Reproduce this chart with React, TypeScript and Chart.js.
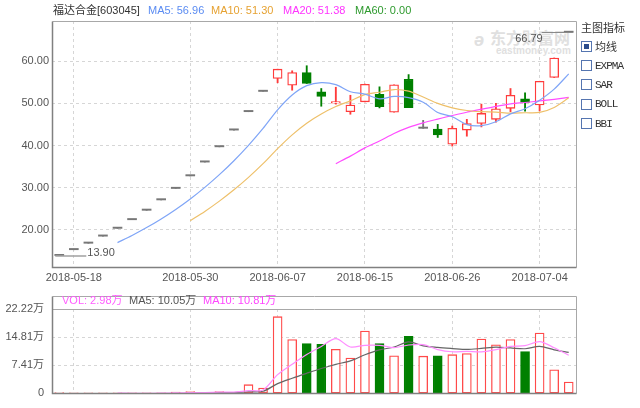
import React, { useEffect, useRef } from 'react';
import { Chart, registerables } from 'chart.js';

Chart.register(...registerables);

// ---------- data ----------
const dates = [
  '2018-05-17', '2018-05-18', '2018-05-21', '2018-05-22', '2018-05-23', '2018-05-24',
  '2018-05-25', '2018-05-28', '2018-05-29', '2018-05-30', '2018-05-31', '2018-06-01',
  '2018-06-04', '2018-06-05', '2018-06-06', '2018-06-07', '2018-06-08', '2018-06-11',
  '2018-06-12', '2018-06-13', '2018-06-14', '2018-06-15', '2018-06-19', '2018-06-20',
  '2018-06-21', '2018-06-22', '2018-06-25', '2018-06-26', '2018-06-27', '2018-06-28',
  '2018-06-29', '2018-07-02', '2018-07-03', '2018-07-04', '2018-07-05', '2018-07-06',
];
const opens = [
  13.9, 15.29, 16.82, 18.5, 20.35, 22.39, 24.63, 27.09, 29.8, 32.78, 36.06, 39.67,
  43.64, 48.0, 52.8, 55.9, 54.3, 57.3, 52.7, 50.0, 48.0, 50.35, 52.1, 47.9,
  55.7, 44.06, 43.9, 40.3, 43.65, 45.2, 46.2, 48.8, 51.07, 49.6, 56.1, 66.79,
];
const highs = [
  13.9, 15.29, 16.82, 18.5, 20.35, 22.39, 24.63, 27.09, 29.8, 32.78, 36.06, 39.67,
  43.64, 48.0, 52.8, 58.08, 57.7, 58.9, 53.5, 53.8, 51.9, 54.55, 53.9, 54.4,
  56.8, 45.95, 45.0, 44.6, 46.2, 49.8, 50.0, 53.5, 52.5, 55.22, 60.74, 66.79,
];
const lows = [
  13.9, 15.29, 16.82, 18.5, 20.35, 22.39, 24.63, 27.09, 29.8, 32.78, 36.06, 39.67,
  43.64, 48.0, 52.8, 54.86, 53.1, 54.7, 49.3, 49.8, 47.4, 50.3, 48.9, 47.9,
  48.96, 44.06, 41.9, 39.86, 42.2, 44.4, 45.5, 48.0, 48.15, 48.2, 56.1, 66.79,
];
const closes = [
  13.9, 15.29, 16.82, 18.5, 20.35, 22.39, 24.63, 27.09, 29.8, 32.78, 36.06, 39.67,
  43.64, 48.0, 52.8, 58.08, 57.3, 54.7, 51.6, 50.4, 49.6, 54.5, 49.2, 54.4,
  48.96, 44.06, 42.5, 44.05, 45.2, 47.6, 48.7, 51.9, 50.2, 55.22, 60.74, 66.79,
];
// volume in 万
const volumes = [
  0.2, 0.03, 0.03, 0.04, 0.04, 0.05, 0.06, 0.08, 0.35, 0.5, 0.15, 0.5,
  0.25, 2.3, 1.4, 20.2, 14.2, 13.1, 12.9, 11.6, 9.3, 16.4, 13.1, 9.9,
  15.0, 9.8, 9.9, 10.2, 10.5, 14.3, 12.8, 14.2, 11.0, 15.9, 6.2, 2.98,
];
const axisDates = ['2018-05-18', '2018-05-30', '2018-06-07', '2018-06-15', '2018-06-26', '2018-07-04'];
const priceTicks = [20, 30, 40, 50, 60];
const priceMin = 11.2;
const priceMax = 69.5;
const volumeTicks = [0, 7.41, 14.81, 22.22];
const volumeMax = 22.22;

const titleText = '福达合金[603045]';
const maLegend = ['MA5: 56.96', 'MA10: 51.30', 'MA20: 51.38', 'MA60: 0.00'];
const volLegend = ['VOL: 2.98万', 'MA5: 10.05万', 'MA10: 10.81万'];
const indicatorItems = ['均线', 'EXPMA', 'SAR', 'BOLL', 'BBI'];

// ---------- styles ----------
const FONT = '"Liberation Sans", Arial, "Noto Sans CJK SC", sans-serif';
const CJK = '"Noto Sans CJK SC", "Liberation Sans", sans-serif';
const RED = '#ff3b3b';
const GREEN = '#008000';
const FLAT = '#777777';
const GRID = '#d6d6d6';

function movingAverage(values: number[], n: number): (number | null)[] {
  return values.map((_, i) => {
    if (i < n - 1) return null;
    let s = 0;
    for (let k = i - n + 1; k <= i; k++) s += values[k];
    return s / n;
  });
}

const candleColor = (i: number) =>
  closes[i] > opens[i] ? RED : closes[i] < opens[i] ? GREEN : FLAT;
const volColor = (i: number) => (closes[i] < opens[i] ? GREEN : RED);

const axisSet = new Set(axisDates);
const xGridColor = (ctx: any) => (axisSet.has(dates[ctx.index]) ? GRID : 'rgba(0,0,0,0)');

const mainPlugin = {
  id: 'mainOverlay',
  afterDatasetsDraw(chart: any) {
    const { ctx, chartArea: a, scales } = chart;
    const xs = scales.x;
    const ys = scales.y;
    ctx.save();
    let hi = 0;
    let lo = 0;
    highs.forEach((v, i) => { if (v >= highs[hi]) hi = i; });
    lows.forEach((v, i) => { if (v < lows[lo]) lo = i; });
    ctx.font = `11px ${FONT}`;
    ctx.fillStyle = '#555';
    const hx = xs.getPixelForValue(hi);
    const hy = Math.round(ys.getPixelForValue(highs[hi])) + 0.5;
    ctx.strokeStyle = '#8a8a8a';
    ctx.lineWidth = 1;
    ctx.beginPath();
    ctx.moveTo(hx + 4, hy);
    ctx.lineTo(hx - 27, hy);
    ctx.stroke();
    ctx.textAlign = 'right';
    ctx.textBaseline = 'top';
    ctx.fillText(highs[hi].toFixed(2), hx - 26, hy + 0.5);

    const lx = xs.getPixelForValue(lo);
    const ly = Math.round(ys.getPixelForValue(lows[lo]));
    ctx.strokeStyle = '#a0a0a0';
    ctx.lineWidth = 1.5;
    ctx.beginPath();
    ctx.moveTo(lx - 4, ly);
    ctx.lineTo(lx + 27, ly);
    ctx.stroke();
    ctx.textAlign = 'left';
    ctx.textBaseline = 'alphabetic';
    ctx.fillText(lows[lo].toFixed(2), lx + 28, ly);

    const L = Math.round(a.left) + 0.5;
    const R = Math.round(a.right) + 0.5;
    const T = Math.round(a.top) + 0.5;
    const B = Math.round(a.bottom) + 0.5;
    ctx.lineWidth = 1;
    ctx.strokeStyle = '#a8a8a8';
    ctx.beginPath();
    ctx.moveTo(L, T); ctx.lineTo(R, T); ctx.lineTo(R, B);
    ctx.stroke();
    ctx.strokeStyle = '#808080';
    ctx.lineWidth = 1.5;
    ctx.beginPath();
    ctx.moveTo(L, T); ctx.lineTo(L, B); ctx.lineTo(R, B);
    ctx.stroke();
    ctx.restore();
  },
};

const volPlugin = {
  id: 'volOverlay',
  afterDatasetsDraw(chart: any) {
    const { ctx, chartArea: a } = chart;
    const L = Math.round(a.left) + 0.5;
    const R = Math.round(a.right) + 0.5;
    const T = Math.round(a.top) + 0.5;
    const B = Math.round(a.bottom) + 0.5;
    ctx.save();
    ctx.strokeStyle = '#a8a8a8';
    ctx.lineWidth = 1;
    ctx.beginPath();
    ctx.moveTo(L, 6.5); ctx.lineTo(R, 6.5); ctx.lineTo(R, B);
    ctx.moveTo(L, T); ctx.lineTo(R, T);
    ctx.stroke();
    ctx.strokeStyle = '#808080';
    ctx.lineWidth = 1.5;
    ctx.beginPath();
    ctx.moveTo(L, 6.5); ctx.lineTo(L, B); ctx.lineTo(R, B);
    ctx.stroke();
    ctx.restore();
  },
};

export default function App() {
  const mainRef = useRef<HTMLCanvasElement>(null);
  const volRef = useRef<HTMLCanvasElement>(null);

  useEffect(() => {
    Chart.defaults.font.family = FONT;
    const ma5 = movingAverage(closes, 5);
    const ma10 = movingAverage(closes, 10);
    const ma20 = movingAverage(closes, 20);
    const bodies = dates.map((_, i) => [opens[i], closes[i]]);
    const wicks = dates.map((_, i) => [lows[i], highs[i]]);

    const main = new Chart(mainRef.current as HTMLCanvasElement, {
      type: 'bar',
      data: {
        labels: dates,
        datasets: [
          { type: 'line', data: ma5, borderColor: '#7fa5f7', borderWidth: 1.2, pointRadius: 0, tension: 0.3, order: 0 } as any,
          { type: 'line', data: ma10, borderColor: '#eec06a', borderWidth: 1.2, pointRadius: 0, tension: 0.3, order: 0 } as any,
          { type: 'line', data: ma20, borderColor: '#ff4dff', borderWidth: 1.2, pointRadius: 0, tension: 0.3, order: 0 } as any,
          {
            type: 'bar',
            data: bodies,
            backgroundColor: dates.map((_, i) => (closes[i] > opens[i] ? '#ffffff' : candleColor(i))),
            borderColor: dates.map((_, i) => candleColor(i)),
            borderWidth: dates.map((_, i) => (closes[i] === opens[i] ? 0 : 1.3)),
            borderSkipped: false,
            barThickness: 9,
            grouped: false,
            minBarLength: 1.3,
            order: 1,
          } as any,
          {
            type: 'bar',
            data: wicks,
            backgroundColor: dates.map((_, i) => candleColor(i)),
            borderWidth: 0,
            barThickness: 1.2,
            grouped: false,
            order: 2,
          } as any,
        ],
      },
      options: {
        responsive: false,
        animation: false,
        devicePixelRatio: 1,
        events: [],
        layout: { padding: { top: 21, right: 64, left: 0, bottom: 0 } },
        plugins: { legend: { display: false }, tooltip: { enabled: false } },
        scales: {
          x: {
            type: 'category',
            offset: true,
            grid: { offset: false, color: xGridColor, drawTicks: false, lineWidth: 1 },
            border: { display: false, dash: [3, 3] },
            ticks: {
              autoSkip: false,
              maxRotation: 0,
              minRotation: 0,
              padding: 4,
              color: '#555',
              font: { size: 11, family: FONT },
              callback: (_v: any, i: number) => (axisSet.has(dates[i]) ? dates[i] : ''),
            },
            afterFit: (s: any) => { s.height = 23; },
          },
          y: {
            min: priceMin,
            max: priceMax,
            afterBuildTicks: (s: any) => { s.ticks = priceTicks.map((v) => ({ value: v })); },
            grid: { color: GRID, drawTicks: false },
            border: { display: false, dash: [3, 3] },
            ticks: {
              padding: 3,
              color: '#555',
              font: { size: 11, family: FONT },
              callback: (v: any) => Number(v).toFixed(2),
            },
            afterFit: (s: any) => { s.width = 52; },
          },
        },
      } as any,
      plugins: [mainPlugin],
    });

    const vma5 = movingAverage(volumes, 5);
    const vma10 = movingAverage(volumes, 10);
    const vol = new Chart(volRef.current as HTMLCanvasElement, {
      type: 'bar',
      data: {
        labels: dates,
        datasets: [
          { type: 'line', data: vma5, borderColor: '#ff8cff', borderWidth: 1.2, pointRadius: 0, tension: 0.3, order: 0 } as any,
          { type: 'line', data: vma10, borderColor: '#666666', borderWidth: 1.2, pointRadius: 0, tension: 0.3, order: 0 } as any,
          {
            type: 'bar',
            data: volumes,
            backgroundColor: dates.map((_, i) => (volColor(i) === RED ? '#ffffff' : GREEN)),
            borderColor: dates.map((_, i) => (volColor(i) === RED ? '#ff4a4a' : GREEN)),
            borderWidth: 1.3,
            borderSkipped: false,
            barThickness: 9,
            grouped: false,
            order: 1,
          } as any,
        ],
      },
      options: {
        responsive: false,
        animation: false,
        devicePixelRatio: 1,
        events: [],
        layout: { padding: { top: 19, right: 64, left: 0, bottom: 4 } },
        plugins: { legend: { display: false }, tooltip: { enabled: false } },
        scales: {
          x: {
            type: 'category',
            offset: true,
            grid: { offset: false, color: xGridColor, drawTicks: false, lineWidth: 1 },
            border: { display: false, dash: [3, 3] },
            ticks: { display: false },
            afterFit: (s: any) => { s.height = 0; },
          },
          y: {
            min: 0,
            max: volumeMax,
            afterBuildTicks: (s: any) => { s.ticks = volumeTicks.map((v) => ({ value: v })); },
            grid: {
              color: (ctx: any) =>
                ctx.tick && (ctx.tick.value === 0 || ctx.tick.value === volumeMax) ? 'rgba(0,0,0,0)' : GRID,
              drawTicks: false,
            },
            border: { display: false, dash: [3, 3] },
            ticks: {
              padding: 8,
              color: '#555',
              font: { size: 11, family: FONT },
              callback: (v: any) => (Number(v) === 0 ? '0' : Number(v).toFixed(2) + '万'),
            },
            afterFit: (s: any) => { s.width = 52; },
          },
        },
      } as any,
      plugins: [volPlugin],
    });

    return () => {
      main.destroy();
      vol.destroy();
    };
  }, []);

  const maColors = ['#5b8cf2', '#e6a232', '#ff33ff', '#2e9a2e'];
  const maLefts = [148, 211, 283, 355];
  const volColors = ['#ff5cff', '#555555', '#ff44ff'];
  const volLefts = [62, 129, 203];
  const itemCenters = [46, 65.5, 84.5, 104, 123.5];

  const abs = (l: number, t: number, extra: any = {}) => ({ position: 'absolute' as const, left: l, top: t, whiteSpace: 'nowrap' as const, ...extra });

  return (
    <div style={{ position: 'absolute', left: 0, top: 0, width: 640, height: 408, background: '#fff', overflow: 'hidden', fontFamily: FONT }}>
      {/* watermark */}
      <div style={abs(490, 28, { fontFamily: CJK, fontSize: 16, fontWeight: 700, color: '#e0e0e0', lineHeight: '18px' })}>东方财富网</div>
      <div style={abs(496, 45, { fontFamily: FONT, fontSize: 10, fontWeight: 700, color: '#e0e0e0', lineHeight: '12px' })}>eastmoney.com</div>
      <div style={abs(474, 30, { fontFamily: FONT, fontSize: 18, fontWeight: 700, fontStyle: 'italic', color: '#e0e0e0', lineHeight: '20px' })}>ǝ</div>

      <canvas ref={mainRef} width={640} height={290} style={{ position: 'absolute', left: 0, top: 0, width: 640, height: 290 }} />
      <canvas ref={volRef} width={640} height={118} style={{ position: 'absolute', left: 0, top: 290, width: 640, height: 118 }} />

      {/* main legend */}
      <div style={abs(53, 3, { fontSize: 11, lineHeight: '14px', color: '#333' })}>{titleText}</div>
      {maLegend.map((t, i) => (
        <div key={t} style={abs(maLefts[i], 3, { fontSize: 11, lineHeight: '14px', color: maColors[i] })}>{t}</div>
      ))}

      {/* volume legend */}
      {volLegend.map((t, i) => (
        <div key={t} style={abs(volLefts[i], 293, { fontSize: 11, lineHeight: '14px', color: volColors[i] })}>{t}</div>
      ))}

      {/* right indicator panel */}
      <div style={abs(581, 20, { fontFamily: CJK, fontSize: 11, lineHeight: '14px', color: '#333' })}>主图指标</div>
      {indicatorItems.map((t, i) => (
        <React.Fragment key={t}>
          <div style={abs(581, itemCenters[i] - 5.5, { width: 9, height: 9, border: '1px solid #5575b0', background: '#fff' })}>
            {i === 0 ? <div style={{ position: 'absolute', left: 2, top: 2, width: 5, height: 5, background: '#2c4c8c' }} /> : null}
          </div>
          <div
            style={abs(595, itemCenters[i] - 7, {
              fontFamily: i === 0 ? CJK : '"Liberation Mono", monospace',
              fontSize: 11,
              lineHeight: '14px',
              letterSpacing: i === 0 ? '0px' : '-1px',
              color: '#333',
            })}
          >
            {t}
          </div>
        </React.Fragment>
      ))}
    </div>
  );
}
